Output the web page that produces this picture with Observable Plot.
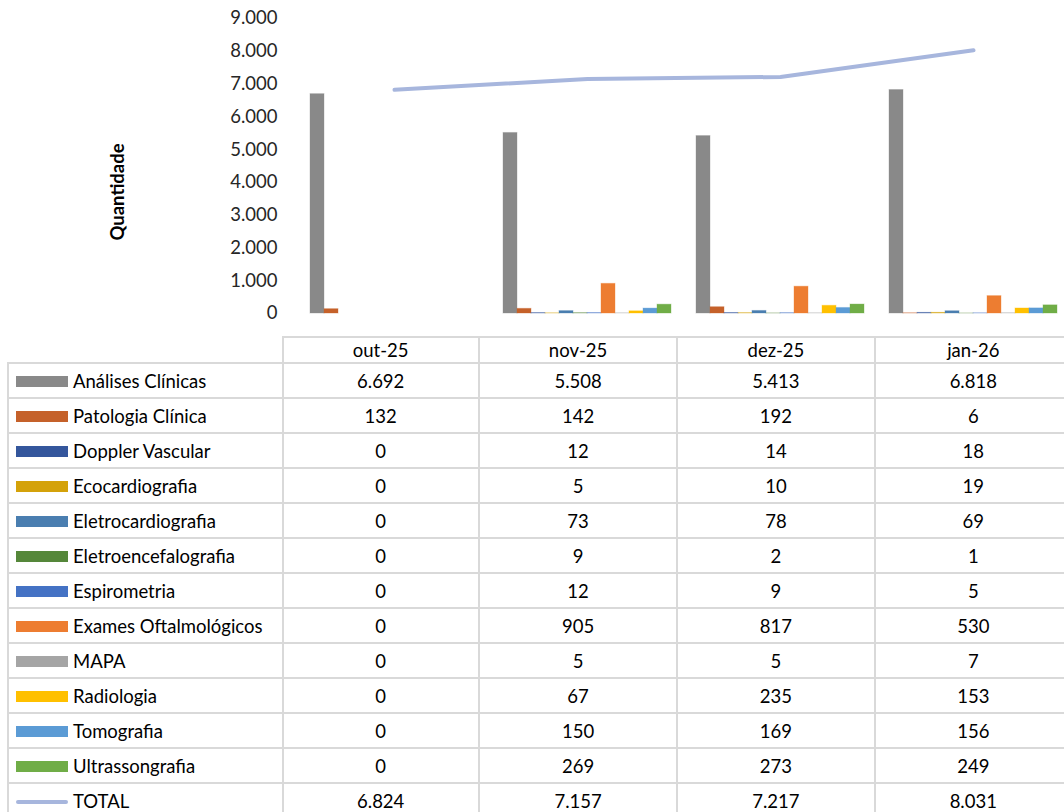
<!DOCTYPE html>
<html>
<head>
<meta charset="utf-8">
<script src="https://cdn.jsdelivr.net/npm/d3@7"></script>
<script src="https://cdn.jsdelivr.net/npm/@observablehq/plot@0.6"></script>
<style>
  html, body { margin: 0; padding: 0; background: #fff; }
  body { width: 1064px; height: 812px; overflow: hidden; font-family: Lato, sans-serif; }
  #wrap { position: relative; width: 1064px; height: 812px; overflow: hidden; }
  #wrap svg { position: absolute; left: 0; top: 0; }
  table { position: absolute; left: 7px; top: 336px; width: 1066px; border-collapse: collapse; table-layout: fixed; font-family: Lato, sans-serif; font-size: 18.5px; color: #000; }
  td { border: 2px solid #d9d9d9; padding: 0; text-align: center; vertical-align: middle; white-space: nowrap; overflow: hidden; }
  tr.hdr td { height: 24px; }
  tr.row td { height: 33px; }
  td.corner { border-top: none; border-left: none; }
  td.name { text-align: left; }
  .key { display: inline-block; width: 52px; height: 11px; margin-left: 7px; margin-right: 5px; vertical-align: middle; position: relative; top: -1px; }
  .key.line { height: 4px; border-radius: 2px; }
</style>
</head>
<body>
<div id="wrap"></div>
<script>
const months = ["out-25", "nov-25", "dez-25", "jan-26"];
const seriesNames = [
  "Análises Clínicas", "Patologia Clínica", "Doppler Vascular", "Ecocardiografia",
  "Eletrocardiografia", "Eletroencefalografia", "Espirometria", "Exames Oftalmológicos",
  "MAPA", "Radiologia", "Tomografia", "Ultrassongrafia"
];
const analisesClinicas   = [6692, 5508, 5413, 6818];
const patologiaClinica   = [132, 142, 192, 6];
const dopplerVascular    = [0, 12, 14, 18];
const ecocardiografia    = [0, 5, 10, 19];
const eletrocardiografia = [0, 73, 78, 69];
const eletroencefalo     = [0, 9, 2, 1];
const espirometria       = [0, 12, 9, 5];
const examesOftalmo      = [0, 905, 817, 530];
const mapa               = [0, 5, 5, 7];
const radiologia         = [0, 67, 235, 153];
const tomografia         = [0, 150, 169, 156];
const ultrassongrafia    = [0, 269, 273, 249];
const totalName = "TOTAL";
const total              = [6824, 7157, 7217, 8031];
const yTicks = [0, 1000, 2000, 3000, 4000, 5000, 6000, 7000, 8000, 9000];

const seriesValues = [analisesClinicas, patologiaClinica, dopplerVascular, ecocardiografia,
  eletrocardiografia, eletroencefalo, espirometria, examesOftalmo, mapa, radiologia,
  tomografia, ultrassongrafia];
const colors = ["#898989", "#C5612A", "#34569C", "#D4A20A", "#4A7EB0", "#55873A",
  "#4472C4", "#ED7D31", "#A5A5A5", "#FFC000", "#5B9BD5", "#70AD47"];
const lineColor = "#A7B6DD";

const fmt = d => d3.format(",")(d).replace(/,/g, ".");

const barData = [];
seriesNames.forEach((s, i) => months.forEach((m, j) => barData.push({series: s, month: m, value: seriesValues[i][j]})));
const lineData = months.map((m, j) => ({month: m, value: total[j]}));

const W = 1064, H = 330, ML = 308, MR = 5, MT = 18, MB = 17;
const common = {width: W, height: H, marginLeft: ML, marginRight: MR, marginTop: MT, marginBottom: MB};
const svgStyle = {background: "transparent", fontFamily: "Lato, sans-serif", fontSize: "18.5px", color: "#262626", overflow: "visible"};

const bars = Plot.plot({
  ...common,
  style: svgStyle,
  fx: {domain: months, paddingInner: 0.109, paddingOuter: 0, axis: null, label: null},
  x: {domain: seriesNames, padding: 0, axis: null},
  y: {domain: [0, 9000], axis: null},
  color: {domain: seriesNames, range: colors},
  marks: [
    Plot.barY(barData, {fx: "month", x: "series", y: "value", fill: "series", stroke: "series", strokeOpacity: 0.35, strokeWidth: 1})
  ]
});

const line = Plot.plot({
  ...common,
  style: svgStyle,
  x: {domain: months, type: "point", padding: 0.4455, axis: null},
  y: {domain: [0, 9000], ticks: yTicks, tickFormat: fmt, tickSize: 0, tickPadding: 31, label: null},
  marks: [
    Plot.line(lineData, {x: "month", y: "value", stroke: lineColor, strokeWidth: 4, strokeLinecap: "round"}),
    Plot.text(["Quantidade"], {frameAnchor: "left", textAnchor: "middle", lineAnchor: "middle", rotate: -90, dx: -190, dy: 26, fontWeight: "bold", fontSize: 18.5, fill: "#000"})
  ]
});

const wrap = document.getElementById("wrap");
wrap.appendChild(bars);
wrap.appendChild(line);

// data table
const table = document.createElement("table");
const cg = document.createElement("colgroup");
[274, 196, 198, 197, 197].forEach(w => { const c = document.createElement("col"); c.style.width = w + "px"; cg.appendChild(c); });
table.appendChild(cg);
const hdr = document.createElement("tr");
hdr.className = "hdr";
const corner = document.createElement("td");
corner.className = "corner";
hdr.appendChild(corner);
months.forEach(m => { const td = document.createElement("td"); td.textContent = m; hdr.appendChild(td); });
table.appendChild(hdr);
function addRow(name, vals, color, isLine) {
  const tr = document.createElement("tr");
  tr.className = "row";
  const td0 = document.createElement("td");
  td0.className = "name";
  const key = document.createElement("span");
  key.className = "key" + (isLine ? " line" : "");
  key.style.background = color;
  td0.appendChild(key);
  td0.appendChild(document.createTextNode(name));
  tr.appendChild(td0);
  vals.forEach(v => { const td = document.createElement("td"); td.textContent = fmt(v); tr.appendChild(td); });
  table.appendChild(tr);
}
seriesNames.forEach((s, i) => addRow(s, seriesValues[i], colors[i], false));
addRow(totalName, total, lineColor, true);
wrap.appendChild(table);
</script>
</body>
</html>
